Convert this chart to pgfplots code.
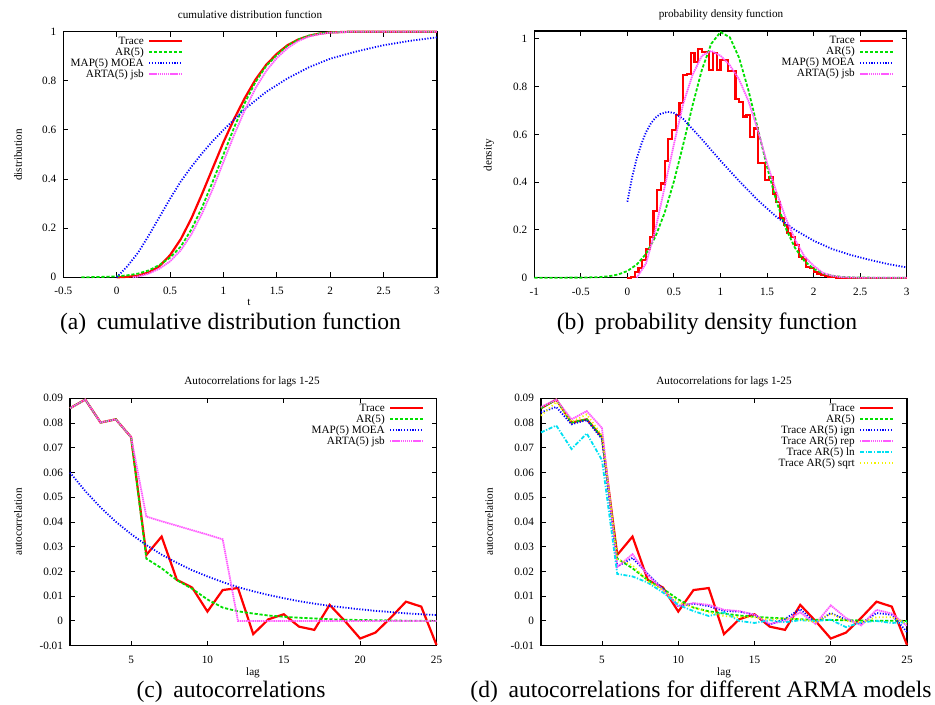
\documentclass[border=0pt]{standalone}
\usepackage{fontspec}
\setmainfont{Liberation Serif}
\usepackage{pgfplots}
\pgfplotsset{compat=1.18}
\newcommand{\gp}{\fontsize{5.6}{6.2}\selectfont}
\definecolor{gpred}{rgb}{1,0,0}
\definecolor{gpgreen}{rgb}{0,0.88,0}
\definecolor{gpblue}{rgb}{0,0,1}
\definecolor{gpmag}{rgb}{1,0.35,1}
\definecolor{gpcyan}{rgb}{0,0.88,0.95}
\definecolor{gpyellow}{rgb}{0.95,0.95,0}
\pgfplotsset{
  gpaxis/.style={scale only axis, clip=false,
    axis line style={line width=0.6pt},
    every tick/.style={black, line width=0.5pt},
    major tick length=2.5pt, tick align=inside,
    tick label style={font=\gp},
    /pgf/number format/assume math mode=true,
    /pgf/number format/fixed, /pgf/number format/precision=2,
    scaled ticks=false,
    xticklabel style={yshift=-1.5pt},
    legend plot pos=right, legend cell align=right,
    legend style={draw=none, fill=none, font=\gp, inner sep=0pt,
      row sep=0pt, column sep=1.7pt,
      nodes={inner sep=0.4pt, text height=3.9pt, text depth=0.8pt}},
    legend image code/.code={\draw[##1] (0cm,0cm) -- (0.58cm,0cm);}
  },
  trace/.style={gpred, line width=1.1pt},
  ar/.style={gpgreen, line width=0.9pt, dash pattern=on 1.6pt off 0.9pt},
  map/.style={gpblue, line width=0.9pt, dash pattern=on 0.6pt off 0.8pt},
  arta/.style={gpmag, line width=0.9pt, dash pattern=on 0.7pt off 0.35pt},
  lnst/.style={gpcyan, line width=0.9pt, dash pattern=on 2pt off 0.8pt on 0.6pt off 0.8pt},
  sqst/.style={gpyellow, line width=0.9pt, dash pattern=on 0.6pt off 1.2pt},
}
\begin{document}
\begin{tikzpicture}
\path[use as bounding box] (0pt,0pt) rectangle (467.5pt,-352.5pt);

% (a) CDF
\begin{axis}[gpaxis, at={(31.65pt,-138.65pt)}, anchor=south west,
  width=186.85pt, height=122.8pt,
  xmin=-0.5, xmax=3, ymin=0, ymax=1,
  xtick={-0.5,0,0.5,1,1.5,2,2.5,3}, ytick={0,0.2,0.4,0.6,0.8,1},
  legend style={at={(0.322,1)}, anchor=north east, yshift=-1.9pt}]
\addplot[trace] coordinates {(0,0) (0.1,0.002) (0.2,0.007) (0.3,0.02) (0.4,0.045) (0.5,0.09) (0.6,0.155) (0.7,0.24) (0.8,0.34) (0.9,0.445) (1.0,0.55) (1.1,0.645) (1.2,0.73) (1.3,0.805) (1.4,0.865) (1.5,0.91) (1.6,0.945) (1.7,0.968) (1.8,0.983) (1.9,0.992) (2.0,0.997) (2.2,1.0) (3.0,1.0)};
\addplot[ar] coordinates {(-0.33,0) (-0.2,0.001) (-0.1,0.002) (0,0.004) (0.1,0.008) (0.2,0.015) (0.3,0.028) (0.4,0.05) (0.5,0.08) (0.6,0.125) (0.7,0.195) (0.8,0.285) (0.9,0.39) (1.0,0.5) (1.1,0.61) (1.2,0.71) (1.3,0.795) (1.4,0.86) (1.5,0.905) (1.6,0.943) (1.7,0.968) (1.8,0.984) (1.9,0.993) (2.0,0.997) (2.2,1) (3,1)};
\addplot[map] coordinates {(0,0) (0.1,0.045) (0.2,0.1) (0.3,0.17) (0.4,0.245) (0.5,0.32) (0.6,0.39) (0.7,0.45) (0.8,0.505) (0.9,0.555) (1.0,0.6) (1.2,0.685) (1.4,0.755) (1.6,0.81) (1.8,0.855) (2.0,0.89) (2.25,0.92) (2.5,0.945) (2.75,0.963) (3.0,0.977)};
\addplot[arta] coordinates {(0.15,0) (0.2,0.003) (0.3,0.015) (0.4,0.035) (0.5,0.065) (0.6,0.11) (0.7,0.175) (0.8,0.26) (0.9,0.36) (1.0,0.47) (1.1,0.58) (1.2,0.68) (1.3,0.77) (1.4,0.84) (1.5,0.893) (1.6,0.933) (1.7,0.962) (1.8,0.98) (1.9,0.99) (2.0,0.996) (2.2,1.0) (3,1.0)};
\legend{Trace, AR(5), MAP(5) MOEA, ARTA(5) jsb}
\end{axis}

% (b) PDF
\begin{axis}[gpaxis, at={(267.15pt,-138.85pt)}, anchor=south west,
  width=186.2pt, height=123.35pt,
  xmin=-1, xmax=3, ymin=0, ymax=1.0335,
  xtick={-1,-0.5,0,0.5,1,1.5,2,2.5,3}, ytick={0,0.2,0.4,0.6,0.8,1},
  legend style={at={(0.9675,1)}, anchor=north east, yshift=-1.9pt}]
\addplot[trace, const plot] coordinates {(0,0) (0.04,0.003) (0.08,0.025) (0.12,0.04) (0.16,0.074) (0.20,0.12) (0.24,0.17) (0.28,0.28) (0.32,0.367) (0.36,0.395) (0.40,0.489) (0.44,0.58) (0.48,0.62) (0.52,0.68) (0.56,0.733) (0.60,0.85) (0.64,0.853) (0.68,0.94) (0.72,0.905) (0.76,0.958) (0.80,0.947) (0.84,0.947) (0.88,0.87) (0.92,0.94) (0.96,0.87) (1.00,0.912) (1.04,0.912) (1.08,0.866) (1.12,0.866) (1.16,0.75) (1.20,0.737) (1.24,0.675) (1.28,0.68) (1.32,0.59) (1.36,0.625) (1.40,0.48) (1.44,0.48) (1.48,0.41) (1.52,0.42) (1.56,0.353) (1.60,0.318) (1.64,0.25) (1.68,0.22) (1.72,0.186) (1.76,0.17) (1.80,0.137) (1.84,0.088) (1.88,0.08) (1.92,0.046) (1.96,0.04) (2.00,0.025) (2.04,0.018) (2.08,0.011) (2.12,0.007) (2.16,0.004) (2.20,0.002) (2.24,0) (3,0)};
\addplot[ar] coordinates {(-1,0) (-0.5,0.0003) (-0.3,0.0025) (-0.2,0.006) (-0.1,0.0133) (0,0.028) (0.1,0.055) (0.2,0.1) (0.3,0.171) (0.4,0.272) (0.5,0.404) (0.6,0.559) (0.7,0.722) (0.8,0.871) (0.9,0.98) (1.0,1.029) (1.1,1.007) (1.2,0.921) (1.3,0.785) (1.4,0.625) (1.5,0.464) (1.6,0.321) (1.7,0.208) (1.8,0.125) (1.9,0.0705) (2.0,0.037) (2.1,0.018) (2.2,0.0083) (2.3,0.0035) (2.4,0.0014) (2.6,0.0002) (3,0)};
\addplot[map] coordinates {(0,0.318) (0.05,0.42) (0.1,0.5) (0.15,0.56) (0.2,0.61) (0.25,0.645) (0.3,0.67) (0.35,0.685) (0.43,0.695) (0.5,0.69) (0.6,0.665) (0.8,0.58) (1.0,0.49) (1.2,0.405) (1.4,0.325) (1.6,0.255) (1.8,0.2) (2.0,0.155) (2.2,0.12) (2.4,0.095) (2.6,0.075) (2.8,0.057) (3.0,0.043)};
\addplot[arta] coordinates {(0.1,0) (0.2,0.06) (0.3,0.2) (0.4,0.38) (0.5,0.56) (0.6,0.73) (0.7,0.85) (0.8,0.93) (0.9,0.95) (1.0,0.93) (1.1,0.89) (1.2,0.83) (1.3,0.74) (1.4,0.62) (1.5,0.48) (1.6,0.36) (1.7,0.25) (1.8,0.16) (1.9,0.09) (2.0,0.05) (2.1,0.02) (2.2,0.008) (2.3,0.002) (2.5,0) (3,0)};
\legend{Trace, AR(5), MAP(5) MOEA, ARTA(5) jsb}
\end{axis}

% (c) ACF
\begin{axis}[gpaxis, at={(35pt,-322.85pt)}, anchor=south west,
  width=183.25pt, height=123.7pt,
  xmin=1, xmax=25, ymin=-0.01, ymax=0.09,
  xtick={5,10,15,20,25}, ytick={-0.01,0,0.01,0.02,0.03,0.04,0.05,0.06,0.07,0.08,0.09},
  legend style={at={(0.9675,1)}, anchor=north east, yshift=-1.9pt}]
\addplot[trace] coordinates {(1,0.086) (2,0.0895) (3,0.0802) (4,0.0815) (5,0.0743) (6,0.0267) (7,0.0341) (8,0.0166) (9,0.0135) (10,0.0038) (11,0.0125) (12,0.0133) (13,-0.0053) (14,0.0007) (15,0.0027) (16,-0.0023) (17,-0.0036) (18,0.0065) (19,0.0) (20,-0.0071) (21,-0.0047) (22,0.0013) (23,0.0078) (24,0.0058) (25,-0.0097)};
\addplot[ar] coordinates {(1,0.086) (2,0.0895) (3,0.0802) (4,0.0815) (5,0.0743) (6,0.0252) (7,0.0213) (8,0.0165) (9,0.013) (10,0.0087) (11,0.0054) (12,0.0039) (13,0.003) (14,0.0022) (15,0.0017) (16,0.0013) (17,0.001) (18,0.0007) (19,0.0005) (20,0.0004) (21,0.0003) (22,0.0002) (23,0.0001) (24,0.0001) (25,0.0)};
\addplot[map] coordinates {(1,0.0600) (2,0.0525) (3,0.0459) (4,0.0401) (5,0.0351) (6,0.0307) (7,0.0268) (8,0.0235) (9,0.0205) (10,0.0180) (11,0.0157) (12,0.0137) (13,0.0120) (14,0.0105) (15,0.0092) (16,0.0080) (17,0.0070) (18,0.0061) (19,0.0054) (20,0.0047) (21,0.0041) (22,0.0036) (23,0.0031) (24,0.0027) (25,0.0024)};
\addplot[arta] coordinates {(1,0.086) (2,0.0895) (3,0.0802) (4,0.0815) (5,0.0743) (6,0.0422) (7,0.0403) (8,0.0385) (9,0.0367) (10,0.0349) (11,0.033) (12,0) (13,0) (14,0) (15,0) (16,0) (17,0) (18,0) (19,0) (20,0) (21,0) (22,0) (23,0) (24,0) (25,0)};
\legend{Trace, AR(5), MAP(5) MOEA, ARTA(5) jsb}
\end{axis}

% (d) ACF ARMA models
\begin{axis}[gpaxis, at={(270.5pt,-322.85pt)}, anchor=south west,
  width=183pt, height=123.7pt,
  xmin=1, xmax=25, ymin=-0.01, ymax=0.09,
  xtick={5,10,15,20,25}, ytick={-0.01,0,0.01,0.02,0.03,0.04,0.05,0.06,0.07,0.08,0.09},
  legend style={at={(0.966,1)}, anchor=north east, yshift=-1.9pt}]
\addplot[trace] coordinates {(1,0.086) (2,0.0895) (3,0.0802) (4,0.0815) (5,0.0743) (6,0.0267) (7,0.0341) (8,0.0166) (9,0.0135) (10,0.0038) (11,0.0125) (12,0.0133) (13,-0.0053) (14,0.0007) (15,0.0027) (16,-0.0023) (17,-0.0036) (18,0.0065) (19,0.0) (20,-0.0071) (21,-0.0047) (22,0.0013) (23,0.0078) (24,0.0058) (25,-0.0097)};
\addplot[ar] coordinates {(1,0.086) (2,0.0895) (3,0.0802) (4,0.0815) (5,0.0743) (6,0.0252) (7,0.0213) (8,0.0165) (9,0.013) (10,0.0087) (11,0.0054) (12,0.0039) (13,0.003) (14,0.0022) (15,0.0017) (16,0.0013) (17,0.001) (18,0.0007) (19,0.0005) (20,0.0004) (21,0.0003) (22,0.0002) (23,0.0001) (24,0.0001) (25,0.0)};
\addplot[map] coordinates {(1,0.0843) (2,0.0865) (3,0.0795) (4,0.0812) (5,0.0735) (6,0.022) (7,0.0255) (8,0.019) (9,0.013) (10,0.006) (11,0.007) (12,0.006) (13,0.004) (14,0.0038) (15,0.0025) (16,-0.0015) (17,0.0008) (18,0.0048) (19,-0.0008) (20,0.0032) (21,0.0005) (22,-0.001) (23,0.0032) (24,0.0025) (25,-0.0045)};
\addplot[arta] coordinates {(1,0.0865) (2,0.0895) (3,0.0815) (4,0.0848) (5,0.078) (6,0.0218) (7,0.027) (8,0.0185) (9,0.0125) (10,0.006) (11,0.0072) (12,0.0065) (13,0.0045) (14,0.004) (15,0.0025) (16,-0.0012) (17,0.0) (18,0.0035) (19,-0.0012) (20,0.0063) (21,0.0012) (22,-0.0018) (23,0.0045) (24,0.003) (25,-0.002)};
\addplot[lnst] coordinates {(1,0.0762) (2,0.079) (3,0.0695) (4,0.0758) (5,0.065) (6,0.019) (7,0.018) (8,0.0155) (9,0.0115) (10,0.0065) (11,0.004) (12,0.002) (13,0.0035) (14,0.0) (15,-0.0008) (16,0.0003) (17,-0.0005) (18,0.0003) (19,0.0) (20,0.0005) (21,-0.0025) (22,-0.0005) (23,0.0) (24,-0.0008) (25,-0.0005)};
\addplot[sqst] coordinates {(1,0.083) (2,0.0885) (3,0.0805) (4,0.0835) (5,0.075) (6,0.025) (7,0.0225) (8,0.016) (9,0.0125) (10,0.0075) (11,0.0055) (12,0.0035) (13,0.002) (14,0.0015) (15,0.0015) (16,0.0005) (17,0.001) (18,0.0008) (19,-0.0005) (20,0.003) (21,0.0) (22,-0.0005) (23,0.0015) (24,0.0015) (25,-0.001)};
\legend{Trace, AR(5), Trace AR(5) ign, Trace AR(5) rep, Trace AR(5) ln, Trace AR(5) sqrt}
\end{axis}

% titles, axis labels, captions
\node[font=\gp] at (125pt,-7.5pt) {cumulative distribution function};
\node[font=\gp] at (360.5pt,-7.5pt) {probability density function};
\node[font=\gp] at (126pt,-191pt) {Autocorrelations for lags 1-25};
\node[font=\gp] at (362pt,-191pt) {Autocorrelations for lags 1-25};
\node[font=\gp, rotate=90] at (9pt,-77.5pt) {distribution};
\node[font=\gp, rotate=90] at (244.5pt,-77.5pt) {density};
\node[font=\gp, rotate=90] at (9pt,-261pt) {autocorrelation};
\node[font=\gp, rotate=90] at (244.5pt,-261pt) {autocorrelation};
\node[font=\gp] at (124.5pt,-151pt) {t};
\node[font=\gp] at (126.5pt,-336.5pt) {lag};
\node[font=\gp] at (362pt,-336.5pt) {lag};
\node[font=\fontsize{11.8}{13}\selectfont, anchor=base, inner sep=0pt] at (115.25pt,-164.5pt) {(a)\hspace{0.45em}cumulative distribution function};
\node[font=\fontsize{11.8}{13}\selectfont, anchor=base, inner sep=0pt] at (353.5pt,-164.5pt) {(b)\hspace{0.45em}probability density function};
\node[font=\fontsize{11.8}{13}\selectfont, anchor=base, inner sep=0pt] at (115.5pt,-348.5pt) {(c)\hspace{0.45em}autocorrelations};
\node[font=\fontsize{11.8}{13}\selectfont, anchor=base, inner sep=0pt] at (350.5pt,-348.5pt) {(d)\hspace{0.45em}autocorrelations for different ARMA models};
\end{tikzpicture}
\end{document}
